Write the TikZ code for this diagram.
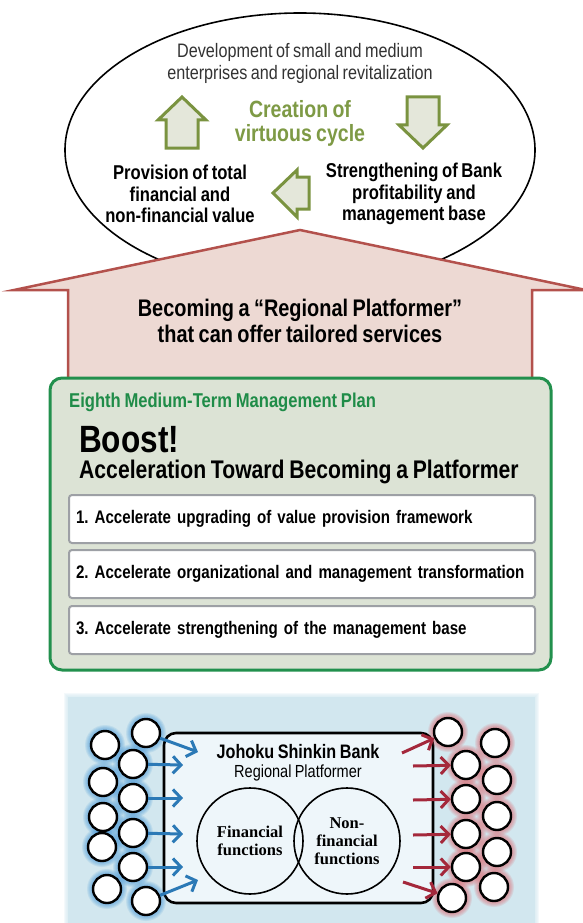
\documentclass[tikz,border=0pt]{standalone}
\usepackage{fontspec}
\setmainfont{Liberation Sans}[FakeStretch=0.83, WordSpace=0.8]
\newfontfamily\serifbf{Liberation Serif}
\usetikzlibrary{arrows.meta,positioning}
\frenchspacing

\definecolor{cycline}{HTML}{7A9340}
\definecolor{cycfill}{HTML}{E4E7DA}
\definecolor{cyctext}{HTML}{7E9A45}
\definecolor{roofline}{HTML}{B3514C}
\definecolor{rooffill}{HTML}{EDD9D3}
\definecolor{planline}{HTML}{22904D}
\definecolor{planfill}{HTML}{DCE3D5}
\definecolor{plantext}{HTML}{1F8C48}
\definecolor{itemline}{HTML}{9DA0A5}
\definecolor{panelblue}{HTML}{D2E7EF}
\definecolor{bankfill}{HTML}{EEF6FA}
\definecolor{inblue}{HTML}{2B79B6}
\definecolor{outred}{HTML}{A4283B}
\definecolor{blueglow}{HTML}{3D92D6}
\definecolor{redglow}{HTML}{DE5A62}

\pgfdeclareradialshading{bluedotfill}{\pgfpoint{0bp}{0bp}}{color(0bp)=(white); color(28bp)=(white); color(50bp)=(blueglow!35)}
\pgfdeclareradialshading{reddotfill}{\pgfpoint{0bp}{0bp}}{color(0bp)=(white); color(28bp)=(white); color(50bp)=(redglow!35)}

\tikzset{
  cyclearrow/.style={draw=cycline, fill=cycfill, line width=3pt},
  itembox/.style={draw=itemline, fill=white, line width=2pt, rounded corners=3pt,
    anchor=west, text width=452pt, inner xsep=7pt, minimum height=48pt, align=left,
    font=\fontsize{18.2}{20}\selectfont\bfseries},
  venn/.style={circle, draw, line width=1.6pt, minimum size=106pt, inner sep=0pt,
    align=center, font=\serifbf\bfseries\fontsize{16.5}{18}\selectfont},
  bluedot/.style={circle, draw=black, line width=2.4pt, minimum size=28pt, inner sep=0pt, shading=bluedotfill},
  reddot/.style={circle, draw=black, line width=2.4pt, minimum size=28pt, inner sep=0pt, shading=reddotfill},
  inarrow/.style={draw=inblue, line width=3pt, -{Straight Barb[length=8pt,width=17pt]}},
  outarrow/.style={draw=outred, line width=3pt, -{Straight Barb[length=8pt,width=17pt]}}
}

\newcommand{\leftdots}{l1/146/733, l2/105/745, l3/133/764, l4/103/782, l5/133/798, l6/103/817,
  l7/133/833, l8/102/847, l9/133/867, l10/107/889, l11/146/901}
\newcommand{\rightdots}{r1/448/732, r2/495/743, r3/466/765, r4/497/780, r5/466/799, r6/497/816,
  r7/466/834, r8/497/852, r9/466/867, r10/494/887, r11/452/898}

\begin{document}
\begin{tikzpicture}[x=1pt,y=-1pt]
\useasboundingbox (0,0) rectangle (583,923);

% Virtuous cycle
\draw[line width=1.6pt, fill=white] (300,150) ellipse [x radius=235, y radius=137];
\node[align=center, text=black!80, font=\fontsize{19.5}{22}\selectfont] (dev) at (300,63)
  {Development of small and medium\\enterprises and regional revitalization};
\node[align=center, text=cyctext, font=\fontsize{23.5}{24}\selectfont\bfseries] (cyc) at (300,123)
  {Creation of\\virtuous cycle};
\node[align=center, font=\fontsize{20}{21.5}\selectfont\bfseries] (prov) at (180,194)
  {Provision of total\\financial and\\non-financial value};
\node[align=center, font=\fontsize{20}{21.5}\selectfont\bfseries] (stren) at (414,194)
  {Strengthening of Bank\\profitability and\\management base};
\draw[cyclearrow] (166,148) -- (166,120) -- (158,120) -- (182,97) -- (206,120) -- (198,120) -- (198,148) -- cycle;
\draw[cyclearrow] (407,97) -- (439,97) -- (439,125) -- (447,125) -- (423,148) -- (399,125) -- (407,125) -- cycle;
\draw[cyclearrow] (309,177) -- (297,177) -- (297,170) -- (273,193) -- (297,217) -- (297,209) -- (309,209) -- cycle;

% Big arrow
\draw[draw=roofline, fill=rooffill, line width=2.5pt]
  (68,390) -- (68,290) -- (14,290) -- (300,230) -- (586,290) -- (532,290) -- (532,390) -- cycle;
\node[align=center, font=\fontsize{24}{26}\selectfont\bfseries] (roof) at (300,321)
  {Becoming a “Regional Platformer”\\that can offer tailored services};

% Management plan
\draw[draw=planline, fill=planfill, line width=3pt, rounded corners=12pt] (50,378) rectangle (551,670);
\node[anchor=west, inner sep=0pt, text=plantext, font=\fontsize{20}{22}\selectfont\bfseries] (plan) at (69,402)
  {Eighth Medium-Term Management Plan};
\node[anchor=west, inner sep=0pt, font=\fontsize{38}{40}\selectfont\bfseries] (boost) at (79,440) {Boost!};
\node[anchor=west, inner sep=0pt, font=\fontsize{25.5}{27}\selectfont\bfseries] (accel) at (79,472)
  {Acceleration Toward Becoming a Platformer};
\node[itembox] (item1) at (68,519) {1. Accelerate upgrading of value provision framework};
\node[itembox] (item2) at (68,574) {2. Accelerate organizational and management transformation};
\node[itembox] (item3) at (68,630) {3. Accelerate strengthening of the management base};

% Regional platform panel
\foreach \g in {1,...,4}
  \fill[panelblue, opacity=.25] (68-\g,697-\g) rectangle (535+\g,923);
\fill[panelblue] (68,697) rectangle (535,923);
\draw[fill=bankfill, line width=2.6pt, rounded corners=12pt] (164,733) rectangle (433,903);
\node[font=\fontsize{19.5}{21}\selectfont\bfseries] (bank) at (298,752) {Johoku Shinkin Bank};
\node[font=\fontsize{17.5}{19}\selectfont] (platf) at (298,773) {Regional Platformer};
\node[venn] (fin) at (250,841) {Financial\\functions};
\node[venn] (nonfin) at (347,841) {Non-\\financial\\functions};

% Customers in, value out
\foreach \n/\px/\py in \leftdots
  \foreach \g in {6,...,1} \fill[blueglow, opacity=.13] (\px,\py) circle ({14+\g});
\foreach \n/\px/\py in \rightdots
  \foreach \g in {6,...,1} \fill[redglow, opacity=.13] (\px,\py) circle ({14+\g});
\foreach \n/\px/\py in \leftdots \node[bluedot] (\n) at (\px,\py) {};
\foreach \n/\px/\py in \rightdots \node[reddot] (\n) at (\px,\py) {};

\coordinate (la1) at (198,752);
\coordinate (la2) at (183,765);
\coordinate (la3) at (183,798);
\coordinate (la4) at (183,834);
\coordinate (la5) at (183,867);
\coordinate (la6) at (198,880);
\draw[inarrow] (l1) -- (la1);
\draw[inarrow] (l3) -- (la2);
\draw[inarrow] (l5) -- (la3);
\draw[inarrow] (l7) -- (la4);
\draw[inarrow] (l9) -- (la5);
\draw[inarrow] (l11) -- (la6);

\coordinate (ra1) at (402,753);
\coordinate (ra2) at (413,766);
\coordinate (ra3) at (413,800);
\coordinate (ra4) at (413,835);
\coordinate (ra5) at (413,867);
\coordinate (ra6) at (403,882);
\draw[outarrow] (ra1) -- (r1);
\draw[outarrow] (ra2) -- (r3);
\draw[outarrow] (ra3) -- (r5);
\draw[outarrow] (ra4) -- (r7);
\draw[outarrow] (ra5) -- (r9);
\draw[outarrow] (ra6) -- (r11);
\end{tikzpicture}
\end{document}
